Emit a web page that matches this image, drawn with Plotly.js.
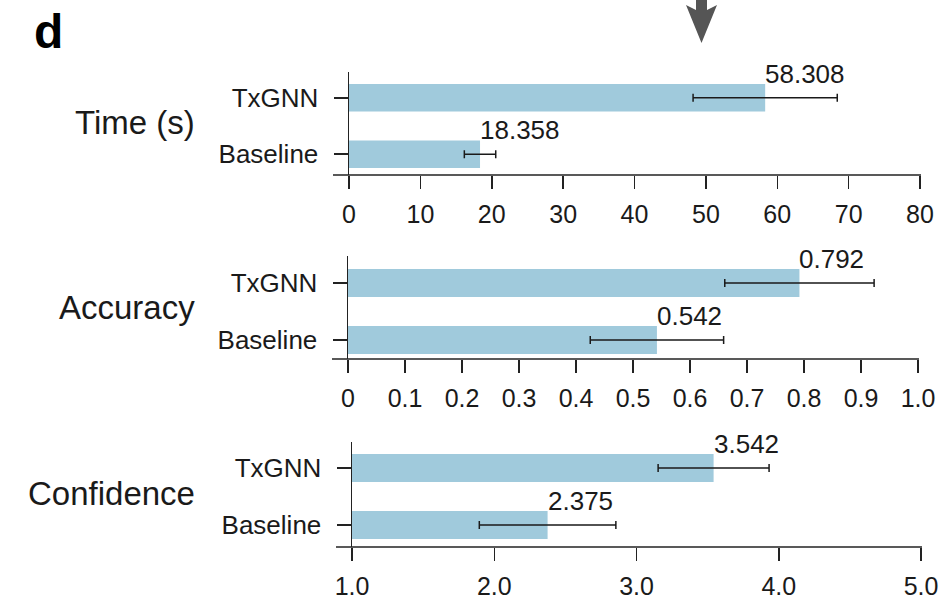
<!DOCTYPE html>
<html>
<head>
<meta charset="utf-8">
<script src="https://cdn.plot.ly/plotly-3.0.1.min.js"></script>
<style>html,body{margin:0;padding:0;background:#fff;}#chart{width:943px;height:604px;}</style>
</head>
<body>
<div id="chart"></div>
<script>
// ---- data ----
const categories = ["Baseline", "TxGNN"];
const panelTitles = ["Time (s)", "Accuracy", "Confidence"];

const timeValues = [18.358, 58.308];
const timeErrors = [2.2, 10.1];
const timeTickVals = [0, 10, 20, 30, 40, 50, 60, 70, 80];
const timeTickText = ["0", "10", "20", "30", "40", "50", "60", "70", "80"];

const accValues = [0.542, 0.792];
const accErrors = [0.117, 0.131];
const accTickVals = [0, 0.1, 0.2, 0.3, 0.4, 0.5, 0.6, 0.7, 0.8, 0.9, 1.0];
const accTickText = ["0", "0.1", "0.2", "0.3", "0.4", "0.5", "0.6", "0.7", "0.8", "0.9", "1.0"];

const confValues = [2.375, 3.542];
const confErrors = [0.48, 0.39];
const confTickVals = [1, 2, 3, 4, 5];
const confTickText = ["1.0", "2.0", "3.0", "4.0", "5.0"];

const valueLabels = [["18.358", "58.308"], ["0.542", "0.792"], ["2.375", "3.542"]];

// ---- styling / layout ----
const W = 943, H = 604;
const FONT = "Liberation Sans, Arial, sans-serif";
const BAR = "#a0cadc";
const px = x => x / W;
const py = y => 1 - y / H;

const panels = [
  {vals: timeValues, errs: timeErrors, tv: timeTickVals, tt: timeTickText, xr: [0, 80], xl: 349, xrPx: 920, top: 72, bottom: 175, yr: [-0.368, 1.456], titleY: 122},
  {vals: accValues, errs: accErrors, tv: accTickVals, tt: accTickText, xr: [0, 1], xl: 348, xrPx: 918, top: 256, bottom: 359, yr: [-0.333, 1.474], titleY: 307},
  {vals: confValues, errs: confErrors, tv: confTickVals, tt: confTickText, xr: [1, 5], xl: 352, xrPx: 921, top: 442, bottom: 547, yr: [-0.386, 1.456], titleY: 493}
];

const traces = [];
const layout = {
  width: W, height: H,
  margin: {l: 0, r: 0, t: 0, b: 0},
  paper_bgcolor: "#fff", plot_bgcolor: "rgba(0,0,0,0)",
  showlegend: false,
  font: {family: FONT, color: "#111"},
  annotations: [],
  shapes: []
};

panels.forEach((p, i) => {
  const n = i === 0 ? "" : String(i + 1);
  traces.push({
    type: "bar", orientation: "h",
    x: p.vals, y: [0, 1],
    xaxis: "x" + n, yaxis: "y" + n,
    width: 0.49,
    marker: {color: BAR, line: {width: 0}},
    error_x: {type: "data", array: p.errs, visible: true, color: "#1a1a1a", thickness: 1.5, width: 4},
    hoverinfo: "skip"
  });
  layout["xaxis" + n] = {
    domain: [px(p.xl), px(p.xrPx)],
    anchor: "y" + n,
    range: p.xr,
    showgrid: false, zeroline: false, showline: false,
    tickmode: "array", tickvals: p.tv, ticktext: p.tt,
    ticks: "outside", ticklen: 13, tickwidth: 1.5, tickcolor: "#222",
    ticklabelstandoff: 4,
    tickfont: {family: FONT, size: 25, color: "#1a1a1a"},
    fixedrange: true
  };
  layout["yaxis" + n] = {
    domain: [py(p.bottom), py(p.top)],
    anchor: "x" + n,
    range: p.yr,
    showgrid: false, zeroline: false,
    showline: true, linewidth: 1.5, linecolor: "#222",
    tickmode: "array", tickvals: [0, 1], ticktext: categories,
    ticks: "outside", ticklen: 14, tickwidth: 1.5, tickcolor: "#222",
    ticklabelstandoff: 10,
    tickfont: {family: FONT, size: 26, color: "#1a1a1a"},
    fixedrange: true
  };
  // x-axis baseline extended to the left of the y axis
  layout.shapes.push({
    type: "line", xref: "paper", yref: "y" + n + " domain",
    x0: px(p.xl - 16), x1: px(p.xrPx + 1), y0: 0, y1: 0,
    line: {color: "#222", width: 1.5}
  });
  // value labels
  p.vals.forEach((v, j) => {
    layout.annotations.push({
      xref: "x" + n, yref: "y" + n, x: v, y: j,
      text: valueLabels[i][j], showarrow: false,
      xanchor: "left", yanchor: "bottom", xshift: -2, yshift: 7,
      font: {family: FONT, size: 26, color: "#1a1a1a"}
    });
  });
  // panel title
  layout.annotations.push({
    xref: "paper", yref: "paper", x: px(197), y: py(p.titleY),
    text: panelTitles[i], showarrow: false,
    xanchor: "right", yanchor: "middle",
    font: {family: FONT, size: 33, color: "#1a1a1a"}
  });
});

// panel letter
layout.annotations.push({
  xref: "paper", yref: "paper", x: px(32), y: py(3),
  text: "<b>d</b>", showarrow: false, xanchor: "left", yanchor: "top",
  font: {family: FONT, size: 48, color: "#000"}
});

// downward arrow at the top
const ax = v => px(v), ay = v => py(v);
layout.shapes.push({
  type: "path", xref: "paper", yref: "paper",
  path: `M${ax(696)},${ay(0)} L${ax(707)},${ay(0)} L${ax(707)},${ay(10)} L${ax(717)},${ay(5)} L${ax(701.5)},${ay(43)} L${ax(686)},${ay(5)} L${ax(696)},${ay(10)} Z`,
  fillcolor: "#555", line: {width: 0}
});

Plotly.newPlot("chart", traces, layout, {displayModeBar: false, staticPlot: true});
</script>
</body>
</html>
